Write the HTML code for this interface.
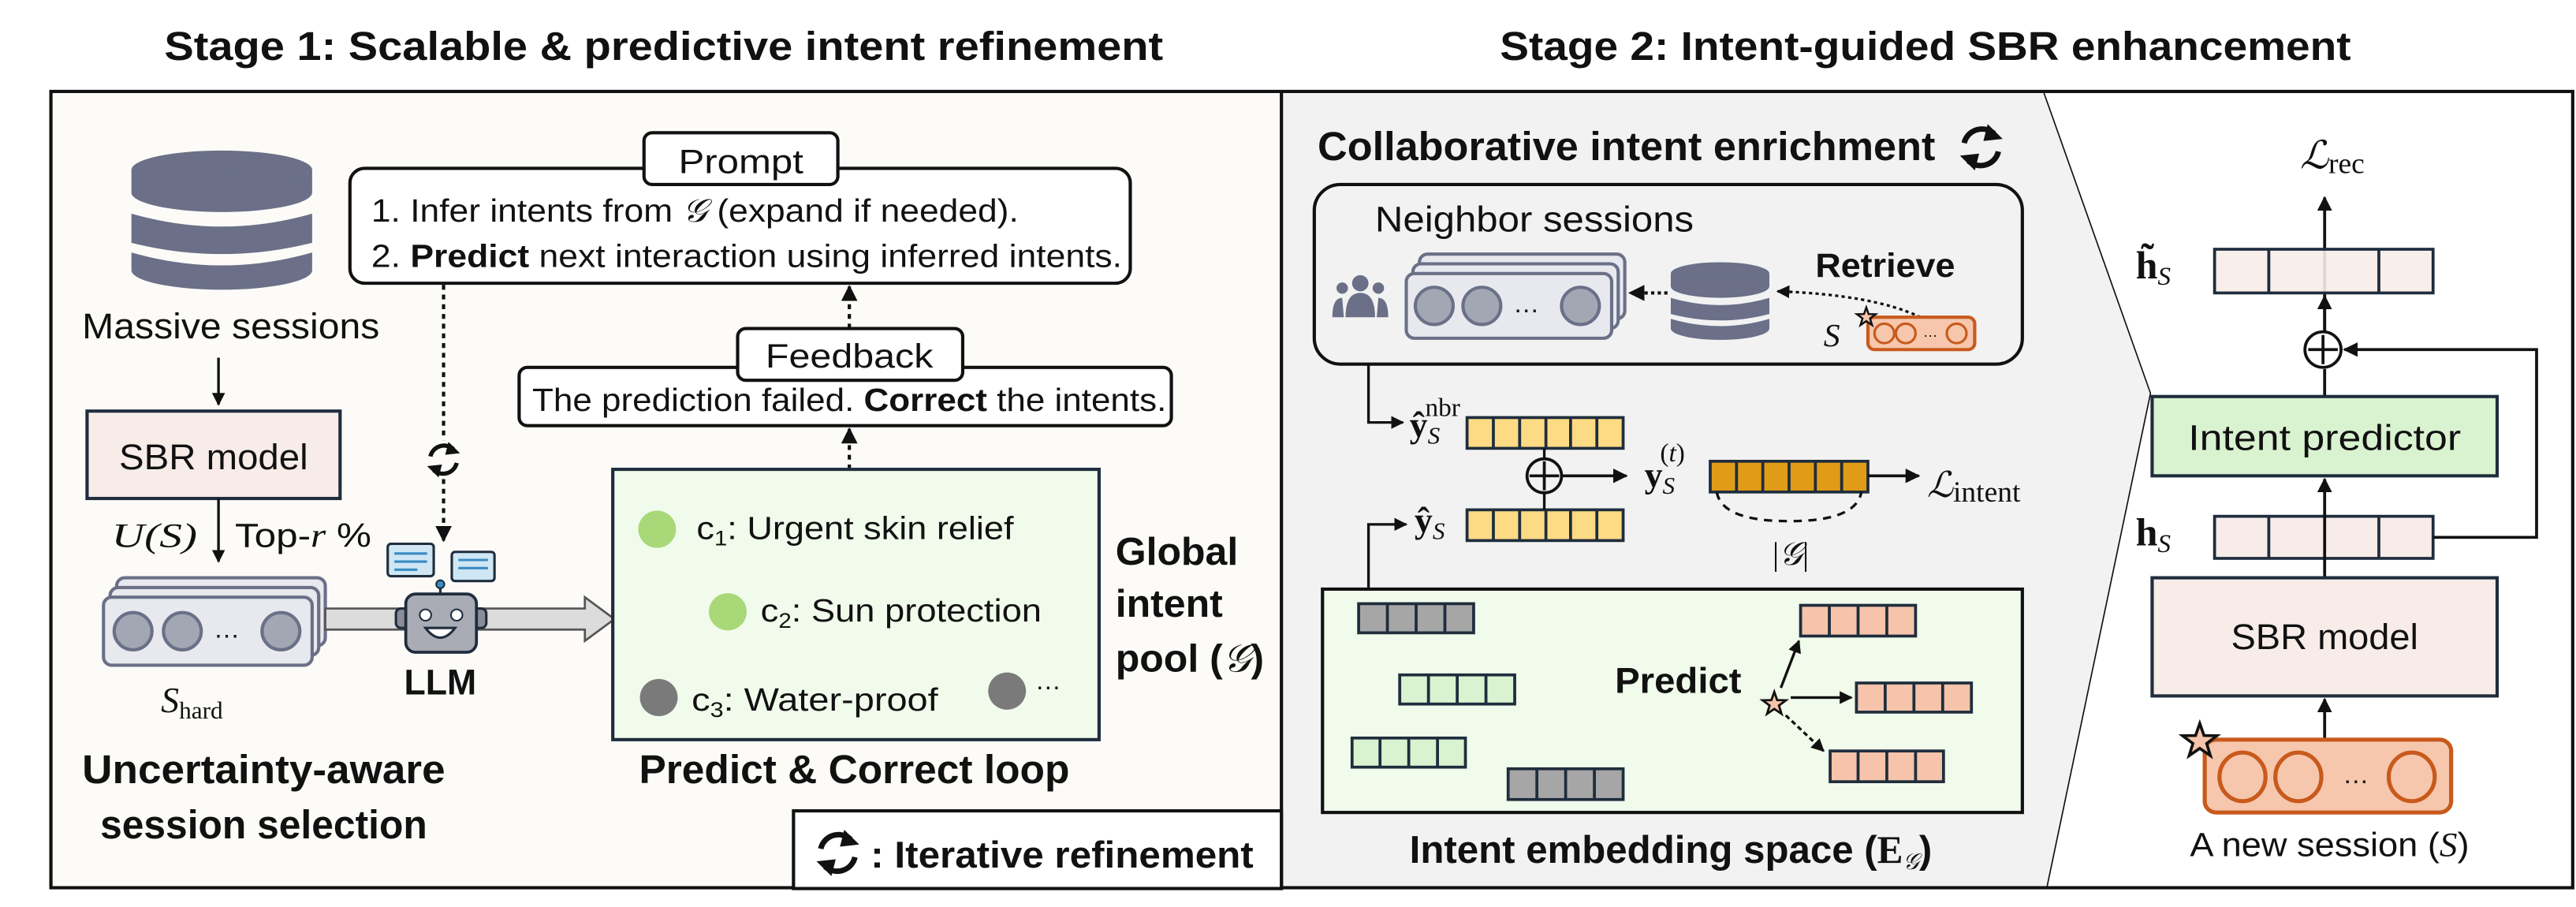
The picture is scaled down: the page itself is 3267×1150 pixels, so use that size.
<!DOCTYPE html>
<html><head><meta charset="utf-8"><style>
html,body{margin:0;padding:0;background:#fff}
svg{display:block}
text{font-family:"Liberation Sans",sans-serif;fill:#111}
.b{font-weight:bold}
.m{font-family:"Liberation Serif",serif}
</style></head><body>
<svg width="3267" height="1150" viewBox="0 0 1568 552" preserveAspectRatio="none" xmlns="http://www.w3.org/2000/svg">
<defs>
<marker id="ar" viewBox="0 0 10 10" refX="9" refY="5" markerWidth="5" markerHeight="5" orient="auto-start-reverse"><path d="M0,0 L10,5 L0,10 z" fill="#111"/></marker>
<g id="cyc"><path d="M-8,-2 A8.5,8.5 0 0 1 6,-6.5" fill="none" stroke="#111" stroke-width="2.6"/><path d="M3,-11 L10,-4 L1,-3 z" fill="#111"/><path d="M8,2 A8.5,8.5 0 0 1 -6,6.5" fill="none" stroke="#111" stroke-width="2.6"/><path d="M-3,11 L-10,4 L-1,3 z" fill="#111"/></g>
<polygon id="star" points="0,-10 2.35,-3.24 9.51,-3.09 3.8,1.24 5.88,8.09 0,4 -5.88,8.09 -3.8,1.24 -9.51,-3.09 -2.35,-3.24"/>
</defs>
<g transform="scale(1,0.985)">
<!-- titles -->
<text class="b" x="100" y="37" font-size="25" textLength="608" lengthAdjust="spacingAndGlyphs">Stage 1: Scalable &amp; predictive intent refinement</text>
<text class="b" x="913" y="37" font-size="25" textLength="518" lengthAdjust="spacingAndGlyphs">Stage 2: Intent-guided SBR enhancement</text>

<!-- panels -->
<rect x="31" y="56.5" width="749" height="492" fill="#fcfbf8"/>
<polygon points="780,56.5 1244,56.5 1309,243 1246,548.5 780,548.5" fill="#f2f2f2"/>
<polyline points="1244,57 1309,243 1246,548" fill="none" stroke="#111" stroke-width="0.8"/>
<rect x="31" y="56.5" width="1535" height="492" fill="none" stroke="#111" stroke-width="2"/>
<line x1="780" y1="56.5" x2="780" y2="548.5" stroke="#111" stroke-width="2"/>

<!-- database left -->
<g fill="#6b7088">
<ellipse cx="135" cy="105" rx="55" ry="12"/>
<rect x="80" y="105" width="110" height="14"/>
<ellipse cx="135" cy="119" rx="55" ry="12"/>
<path d="M80,132 Q135,148 190,132 L190,150 Q135,164 80,150 z"/>
<path d="M80,156 Q135,172 190,156 L190,167 A55,12 0 0 1 80,167 z"/>
</g>
<text x="50" y="209" font-size="22" textLength="181" lengthAdjust="spacingAndGlyphs">Massive sessions</text>
<line x1="133" y1="221" x2="133" y2="250" stroke="#111" stroke-width="1.6" marker-end="url(#ar)"/>
<rect x="53" y="254" width="154" height="54" fill="#f7ece8" stroke="#1f2d3d" stroke-width="2"/>
<text x="130" y="290" font-size="22" text-anchor="middle" textLength="115" lengthAdjust="spacingAndGlyphs">SBR model</text>
<line x1="133" y1="308" x2="133" y2="347" stroke="#111" stroke-width="1.6" marker-end="url(#ar)"/>
<text class="m" x="68" y="338" font-size="21" font-style="italic" textLength="52" lengthAdjust="spacingAndGlyphs">U(S)</text>
<text x="143" y="338" font-size="21" textLength="83" lengthAdjust="spacingAndGlyphs">Top-<tspan class="m" font-style="italic">r</tspan> %</text>

<!-- stack -->
<g stroke="#6b7088" stroke-width="2" fill="#e8e9ef">
<rect x="71" y="357" width="127" height="42" rx="5"/>
<rect x="67" y="363" width="127" height="42" rx="5"/>
<rect x="63" y="369" width="127" height="42" rx="5"/>
<circle cx="81" cy="390" r="11.5" fill="#a3a7b3"/>
<circle cx="111" cy="390" r="11.5" fill="#a3a7b3"/>
<circle cx="171" cy="390" r="11.5" fill="#a3a7b3"/>
</g>
<text x="138" y="394" font-size="16" text-anchor="middle">…</text>
<text class="m" x="98" y="440" font-size="22" font-style="italic">S<tspan font-style="normal" font-size="15" dy="4">hard</tspan></text>
<text class="b" x="50" y="484" font-size="25" textLength="221" lengthAdjust="spacingAndGlyphs">Uncertainty-aware</text>
<text class="b" x="61" y="518" font-size="25" textLength="199" lengthAdjust="spacingAndGlyphs">session selection</text>

<!-- hollow arrow -->
<path d="M198,376 L356,376 L356,369 L374,382.5 L356,396 L356,389 L198,389 z" fill="#dcdcdc" stroke="#555" stroke-width="1.3"/>
<!-- robot -->
<rect x="236" y="336" width="28" height="20" rx="2" fill="#cfe6f5" stroke="#1f2d3d" stroke-width="1.5"/>
<path d="M240,342h20M240,347h20M240,352h14" stroke="#3b8bc2" stroke-width="1.5"/>
<rect x="275" y="341" width="26" height="18" rx="2" fill="#cfe6f5" stroke="#1f2d3d" stroke-width="1.5"/>
<path d="M279,346h18M279,351h18" stroke="#3b8bc2" stroke-width="1.5"/>
<line x1="268" y1="362" x2="268" y2="368" stroke="#1f2d3d" stroke-width="1.5"/>
<circle cx="268" cy="361" r="2.5" fill="#3b8bc2" stroke="#1f2d3d"/>
<rect x="241" y="376" width="55" height="12" rx="3" fill="#8a8d96" stroke="#1f2d3d" stroke-width="1.5"/>
<rect x="247" y="367" width="43" height="36" rx="6" fill="#a9acb5" stroke="#1f2d3d" stroke-width="1.8"/>
<circle cx="259" cy="380" r="3.5" fill="#fff" stroke="#1f2d3d"/>
<circle cx="278" cy="380" r="3.5" fill="#fff" stroke="#1f2d3d"/>
<path d="M259,388 Q268,400 277,388 z" fill="#fff" stroke="#1f2d3d" stroke-width="1.5"/>
<text class="b" x="246" y="429" font-size="22" textLength="44" lengthAdjust="spacingAndGlyphs">LLM</text>

<!-- dotted line prompt -> robot -->
<line x1="270" y1="176" x2="270" y2="334" stroke="#111" stroke-width="2" stroke-dasharray="3,3" marker-end="url(#ar)"/>
<rect x="258" y="272" width="24" height="24" fill="#fcfbf8"/>
<use href="#cyc" x="270" y="284"/>

<!-- prompt -->
<rect x="213" y="104" width="475" height="71" rx="9" fill="#fff" stroke="#111" stroke-width="2"/>
<rect x="392" y="82" width="118" height="32" rx="5" fill="#fff" stroke="#111" stroke-width="2"/>
<text x="451" y="107" font-size="21" text-anchor="middle" textLength="76" lengthAdjust="spacingAndGlyphs">Prompt</text>
<text x="226" y="137" font-size="20" textLength="394" lengthAdjust="spacingAndGlyphs">1. Infer intents from <tspan class="m" font-style="italic">𝒢</tspan> (expand if needed).</text>
<text x="226" y="165" font-size="20" textLength="457" lengthAdjust="spacingAndGlyphs">2. <tspan class="b">Predict</tspan> next interaction using inferred intents.</text>

<!-- dotted arrows -->
<line x1="517" y1="203" x2="517" y2="177" stroke="#111" stroke-width="2" stroke-dasharray="3,3" marker-end="url(#ar)"/>
<line x1="517" y1="290" x2="517" y2="265" stroke="#111" stroke-width="2" stroke-dasharray="3,3" marker-end="url(#ar)"/>

<!-- feedback -->
<rect x="316" y="227" width="397" height="36" rx="5" fill="#fff" stroke="#111" stroke-width="2"/>
<rect x="449" y="203" width="137" height="32" rx="5" fill="#fff" stroke="#111" stroke-width="2"/>
<text x="517" y="227" font-size="21" text-anchor="middle" textLength="102" lengthAdjust="spacingAndGlyphs">Feedback</text>
<text x="324" y="254" font-size="20" textLength="386" lengthAdjust="spacingAndGlyphs">The prediction failed. <tspan class="b">Correct</tspan> the intents.</text>

<!-- pool -->
<rect x="373" y="290" width="296" height="167" fill="#f1fbeb" stroke="#1f2d3d" stroke-width="2"/>
<circle cx="400" cy="327" r="11.5" fill="#a8d878"/>
<text x="424" y="333" font-size="20" textLength="193" lengthAdjust="spacingAndGlyphs">c<tspan font-size="13" dy="4">1</tspan><tspan dy="-4">: Urgent skin relief</tspan></text>
<circle cx="443" cy="378" r="11.5" fill="#a8d878"/>
<text x="463" y="384" font-size="20" textLength="171" lengthAdjust="spacingAndGlyphs">c<tspan font-size="13" dy="4">2</tspan><tspan dy="-4">: Sun protection</tspan></text>
<circle cx="401" cy="431" r="11.5" fill="#7a7a7a"/>
<text x="421" y="439" font-size="20" textLength="150" lengthAdjust="spacingAndGlyphs">c<tspan font-size="13" dy="4">3</tspan><tspan dy="-4">: Water-proof</tspan></text>
<circle cx="613" cy="427" r="11.5" fill="#7a7a7a"/>
<text x="630" y="426" font-size="16">…</text>
<text class="b" x="679" y="349" font-size="24">Global</text>
<text class="b" x="679" y="381" font-size="24">intent</text>
<text class="b" x="679" y="415" font-size="24">pool (<tspan class="m" font-style="italic" font-weight="normal">𝒢</tspan>)</text>
<text class="b" x="389" y="484" font-size="25" textLength="262" lengthAdjust="spacingAndGlyphs">Predict &amp; Correct loop</text>

<!-- legend -->
<rect x="483" y="501" width="297" height="48" fill="#fff" stroke="#111" stroke-width="2"/>
<use href="#cyc" transform="translate(510 527) scale(1.3)"/>
<text class="b" x="530" y="536" font-size="23" textLength="233" lengthAdjust="spacingAndGlyphs">: Iterative refinement</text>

<!-- ===== Stage 2 middle ===== -->
<text class="b" x="802" y="99" font-size="25" textLength="376" lengthAdjust="spacingAndGlyphs">Collaborative intent enrichment</text>
<use href="#cyc" transform="translate(1206 91) scale(1.3)"/>
<rect x="800" y="114" width="431" height="111" rx="16" fill="#f2f2f2" stroke="#111" stroke-width="2"/>
<text x="837" y="143" font-size="22" textLength="194" lengthAdjust="spacingAndGlyphs">Neighbor sessions</text>
<!-- people -->
<g fill="#6b7088">
<circle cx="828" cy="175" r="5"/><circle cx="817" cy="178" r="3.5"/><circle cx="839" cy="178" r="3.5"/>
<path d="M819,196 Q819,181 828,181 Q837,181 837,196 z"/>
<path d="M811,196 Q811,184 817,184 L818,196 z"/><path d="M845,196 Q845,184 839,184 L838,196 z"/>
</g>
<!-- stack -->
<g stroke="#6b7088" stroke-width="2" fill="#e8e9ef">
<rect x="864" y="157" width="125" height="40" rx="5"/>
<rect x="860" y="163" width="125" height="40" rx="5"/>
<rect x="856" y="169" width="125" height="40" rx="5"/>
<circle cx="873" cy="189" r="11.5" fill="#a3a7b3"/>
<circle cx="902" cy="189" r="11.5" fill="#a3a7b3"/>
<circle cx="962" cy="189" r="11.5" fill="#a3a7b3"/>
</g>
<text x="929" y="193" font-size="16" text-anchor="middle">…</text>
<!-- db mid -->
<g fill="#6b7088">
<ellipse cx="1047" cy="169" rx="30" ry="7"/>
<rect x="1017" y="169" width="60" height="8"/>
<ellipse cx="1047" cy="177" rx="30" ry="7"/>
<path d="M1017,184 Q1047,193 1077,184 L1077,194 Q1047,202 1017,194 z"/>
<path d="M1017,197 Q1047,206 1077,197 L1077,203 A30,7 0 0 1 1017,203 z"/>
</g>
<line x1="1015" y1="181" x2="992" y2="181" stroke="#111" stroke-width="2" stroke-dasharray="2,2" marker-end="url(#ar)"/>
<path d="M1169,196 Q1140,182 1082,180" fill="none" stroke="#111" stroke-width="1.6" stroke-dasharray="2,2" marker-end="url(#ar)"/>
<text class="b" x="1105" y="171" font-size="21" textLength="85" lengthAdjust="spacingAndGlyphs">Retrieve</text>
<text class="m" x="1110" y="214" font-size="20" font-style="italic">S</text>
<rect x="1137" y="196" width="65" height="20" rx="4" fill="#f6c7ad" stroke="#c85a1c" stroke-width="2"/>
<circle cx="1147" cy="206" r="6" fill="#f6c7ad" stroke="#c85a1c" stroke-width="1.5"/>
<circle cx="1160" cy="206" r="6" fill="#f6c7ad" stroke="#c85a1c" stroke-width="1.5"/>
<circle cx="1191" cy="206" r="6" fill="#f6c7ad" stroke="#c85a1c" stroke-width="1.5"/>
<text x="1175" y="208" font-size="9" text-anchor="middle">…</text>
<use href="#star" transform="translate(1136 196) scale(0.6)" fill="#f6c7ad" stroke="#111" stroke-width="2"/>

<!-- connectors to ŷ -->
<polyline points="833,225 833,261 854,261" fill="none" stroke="#111" stroke-width="1.6" marker-end="url(#ar)"/>
<polyline points="833,364 833,324 856,324" fill="none" stroke="#111" stroke-width="1.6" marker-end="url(#ar)"/>
<text class="m b" x="858" y="270" font-size="22">ŷ<tspan font-style="italic" font-weight="normal" font-size="15" dy="4">S</tspan><tspan font-weight="normal" font-size="16" dx="-9" dy="-17">nbr</tspan></text>
<text class="m b" x="861" y="329" font-size="22">ŷ<tspan font-style="italic" font-weight="normal" font-size="15" dy="4">S</tspan></text>
<!-- yellow vectors -->
<g stroke="#1f2d3d" stroke-width="1.8">
<rect x="893" y="258" width="95" height="19" fill="#fddb85"/>
<path d="M909,258v19M925,258v19M941,258v19M956,258v19M972,258v19"/>
<rect x="893" y="315" width="95" height="19" fill="#fddb85"/>
<path d="M909,315v19M925,315v19M941,315v19M956,315v19M972,315v19"/>
</g>
<line x1="940" y1="277" x2="940" y2="315" stroke="#111" stroke-width="1.6"/>
<circle cx="940" cy="294" r="10.5" fill="#f2f2f2" stroke="#111" stroke-width="1.8"/>
<path d="M940,285v18M931,294h18" stroke="#111" stroke-width="1.8"/>
<line x1="951" y1="294" x2="990" y2="294" stroke="#111" stroke-width="1.8" marker-end="url(#ar)"/>
<text class="m b" x="1001" y="301" font-size="22">y<tspan font-style="italic" font-weight="normal" font-size="15" dy="4">S</tspan><tspan font-weight="normal" font-size="16" dx="-9" dy="-20">(<tspan font-style="italic">t</tspan>)</tspan></text>
<g stroke="#1f2d3d" stroke-width="1.8">
<rect x="1041" y="285" width="96" height="19" fill="#e09c16"/>
<path d="M1057,285v19M1073,285v19M1089,285v19M1105,285v19M1121,285v19"/>
</g>
<line x1="1137" y1="294" x2="1168" y2="294" stroke="#111" stroke-width="1.8" marker-end="url(#ar)"/>
<text class="m" x="1173" y="307" font-size="22" font-style="italic">ℒ<tspan font-style="normal" font-size="18" dy="3">intent</tspan></text>
<path d="M1045,304 Q1048,322 1089,322 Q1130,322 1133,304" fill="none" stroke="#111" stroke-width="1.6" stroke-dasharray="5,4"/>
<text class="m" x="1090" y="349" font-size="20" text-anchor="middle">|<tspan font-style="italic">𝒢</tspan>|</text>

<!-- embedding box -->
<rect x="805" y="364" width="426" height="138" fill="#f1fbeb" stroke="#111" stroke-width="2"/>
<g stroke="#1f2d3d" stroke-width="1.8">
<rect x="827" y="373" width="70" height="18" fill="#a6a6a6"/><path d="M844.5,373v18M862,373v18M879.5,373v18"/>
<rect x="852" y="417" width="70" height="18" fill="#d9f2d0"/><path d="M869.5,417v18M887,417v18M904.5,417v18"/>
<rect x="823" y="456" width="69" height="18" fill="#d9f2d0"/><path d="M840,456v18M857.5,456v18M875,456v18"/>
<rect x="918" y="475" width="70" height="19" fill="#a6a6a6"/><path d="M935.5,475v19M953,475v19M970.5,475v19"/>
<rect x="1096" y="374" width="70" height="19" fill="#f5c4ab"/><path d="M1113.5,374v19M1131,374v19M1148.5,374v19"/>
<rect x="1130" y="422" width="70" height="18" fill="#f5c4ab"/><path d="M1147.5,422v18M1165,422v18M1182.5,422v18"/>
<rect x="1114" y="464" width="69" height="19" fill="#f5c4ab"/><path d="M1131,464v19M1148.5,464v19M1166,464v19"/>
</g>
<text class="b" x="983" y="428" font-size="22" textLength="77" lengthAdjust="spacingAndGlyphs">Predict</text>
<use href="#star" transform="translate(1080 435) scale(0.75)" fill="#f5c4ab" stroke="#111" stroke-width="1.8"/>
<line x1="1084" y1="425" x2="1095" y2="396" stroke="#111" stroke-width="1.6" marker-end="url(#ar)"/>
<line x1="1090" y1="431" x2="1127" y2="431" stroke="#111" stroke-width="1.6" marker-end="url(#ar)"/>
<line x1="1087" y1="442" x2="1110" y2="464" stroke="#111" stroke-width="1.6" stroke-dasharray="3,2" marker-end="url(#ar)"/>
<text class="b" x="858" y="533" font-size="24" textLength="318" lengthAdjust="spacingAndGlyphs">Intent embedding space (<tspan class="m">E</tspan><tspan class="m" font-style="italic" font-weight="normal" font-size="14" dy="4">𝒢</tspan><tspan dy="-4">)</tspan></text>

<!-- ===== right panel ===== -->
<text class="m" x="1400" y="104" font-size="24" font-style="italic">ℒ<tspan font-style="normal" font-size="18" dy="3">rec</tspan></text>
<line x1="1415" y1="216" x2="1415" y2="122" stroke="#111" stroke-width="1.8" marker-end="url(#ar)"/>
<text class="m b" x="1300" y="172" font-size="24">h̃<tspan font-style="italic" font-weight="normal" font-size="16" dy="4">S</tspan></text>
<g stroke="#1f2d3d" stroke-width="1.8">
<rect x="1348" y="154" width="133" height="27" fill="#f7ece8" fill-opacity="0.9"/><path d="M1381,154v27M1448,154v27"/>
</g>
<line x1="1415" y1="205" x2="1415" y2="183" stroke="#111" stroke-width="1.8" marker-end="url(#ar)"/>
<circle cx="1414" cy="216" r="11" fill="#fff" stroke="#111" stroke-width="1.8"/>
<path d="M1414,207v18M1405,216h18" stroke="#111" stroke-width="1.8"/>
<line x1="1415" y1="245" x2="1415" y2="228" stroke="#111" stroke-width="1.8"/>
<rect x="1310" y="245" width="210" height="49" fill="#d9f2d0" stroke="#1f2d3d" stroke-width="2"/>
<text x="1415" y="278" font-size="22" text-anchor="middle" textLength="166" lengthAdjust="spacingAndGlyphs">Intent predictor</text>
<text class="m b" x="1300" y="337" font-size="24">h<tspan font-style="italic" font-weight="normal" font-size="16" dy="4">S</tspan></text>
<g stroke="#1f2d3d" stroke-width="1.8">
<rect x="1348" y="319" width="133" height="26" fill="#f7ece8"/><path d="M1381,319v26M1448,319v26"/>
</g>
<line x1="1415" y1="357" x2="1415" y2="296" stroke="#111" stroke-width="1.8" marker-end="url(#ar)"/>
<polyline points="1481,332 1544,332 1544,216 1427,216" fill="none" stroke="#111" stroke-width="1.8" marker-end="url(#ar)"/>
<rect x="1310" y="357" width="210" height="73" fill="#f7ece8" stroke="#1f2d3d" stroke-width="2"/>
<text x="1415" y="401" font-size="22" text-anchor="middle" textLength="114" lengthAdjust="spacingAndGlyphs">SBR model</text>
<line x1="1415" y1="457" x2="1415" y2="432" stroke="#111" stroke-width="1.8" marker-end="url(#ar)"/>
<rect x="1342" y="457" width="150" height="45" rx="7" fill="#f6c7ad" stroke="#c85a1c" stroke-width="2.5"/>
<g fill="#f6c7ad" stroke="#c85a1c" stroke-width="2.5">
<ellipse cx="1365" cy="480" rx="14" ry="15"/><ellipse cx="1399" cy="480" rx="14" ry="15"/><ellipse cx="1468" cy="480" rx="14" ry="15"/>
</g>
<text x="1434" y="484" font-size="16" text-anchor="middle">…</text>
<use href="#star" transform="translate(1339 458) scale(1.1)" fill="#f5c4ab" stroke="#111" stroke-width="1.6"/>
<text x="1418" y="529" font-size="21" text-anchor="middle" textLength="170" lengthAdjust="spacingAndGlyphs">A new session (<tspan class="m" font-style="italic">S</tspan>)</text>
</g>
</svg>
</body></html>
